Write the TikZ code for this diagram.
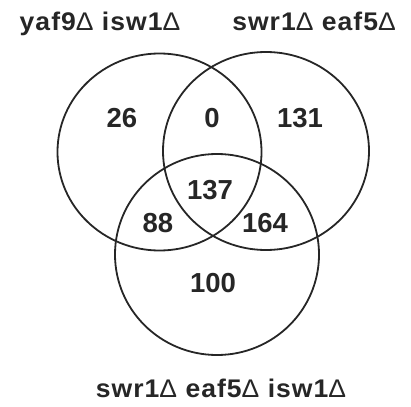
\documentclass[tikz,border=0pt]{standalone}
\usepackage{fontspec}
\setmainfont{Liberation Sans}
\newfontfamily\labfont[LetterSpace=4,FakeStretch=1.04]{Liberation Sans}
\begin{document}
\begin{tikzpicture}[x=1pt,y=-1pt,
  venn/.style={draw=black!85, line width=1.8pt},
  num/.style={font=\fontsize{27.5}{30}\selectfont\bfseries, text=black!85, inner sep=0pt},
  setlabel/.style={font=\labfont\fontsize{25.5}{28}\selectfont\bfseries, text=black!85, inner sep=0pt, anchor=base}]
\useasboundingbox (0,0) rectangle (411,406);
\newcommand{\dl}{{\mdseries Δ}}
\draw[venn] (159.5,152) ellipse [x radius=102, y radius=98.5];
\draw[venn] (266,151) ellipse [x radius=103, y radius=99];
\draw[venn] (217,254.5) ellipse [x radius=102, y radius=100.5];
\node[setlabel] (la) at (100,31) {yaf9\dl{} isw1\dl};
\node[setlabel] (lb) at (314,31) {swr1\dl{} eaf5\dl};
\node[setlabel] (lc) at (221,397) {swr1\dl{} eaf5\dl{} isw1\dl};
\node[num] (n26) at (122,118) {26};
\node[num] (n0) at (212,118) {0};
\node[num] (n131) at (300,118) {131};
\node[num] (n137) at (210,190) {137};
\node[num] (n88) at (158,223) {88};
\node[num] (n164) at (265,223) {164};
\node[num] (n100) at (213,283) {100};
\end{tikzpicture}
\end{document}
